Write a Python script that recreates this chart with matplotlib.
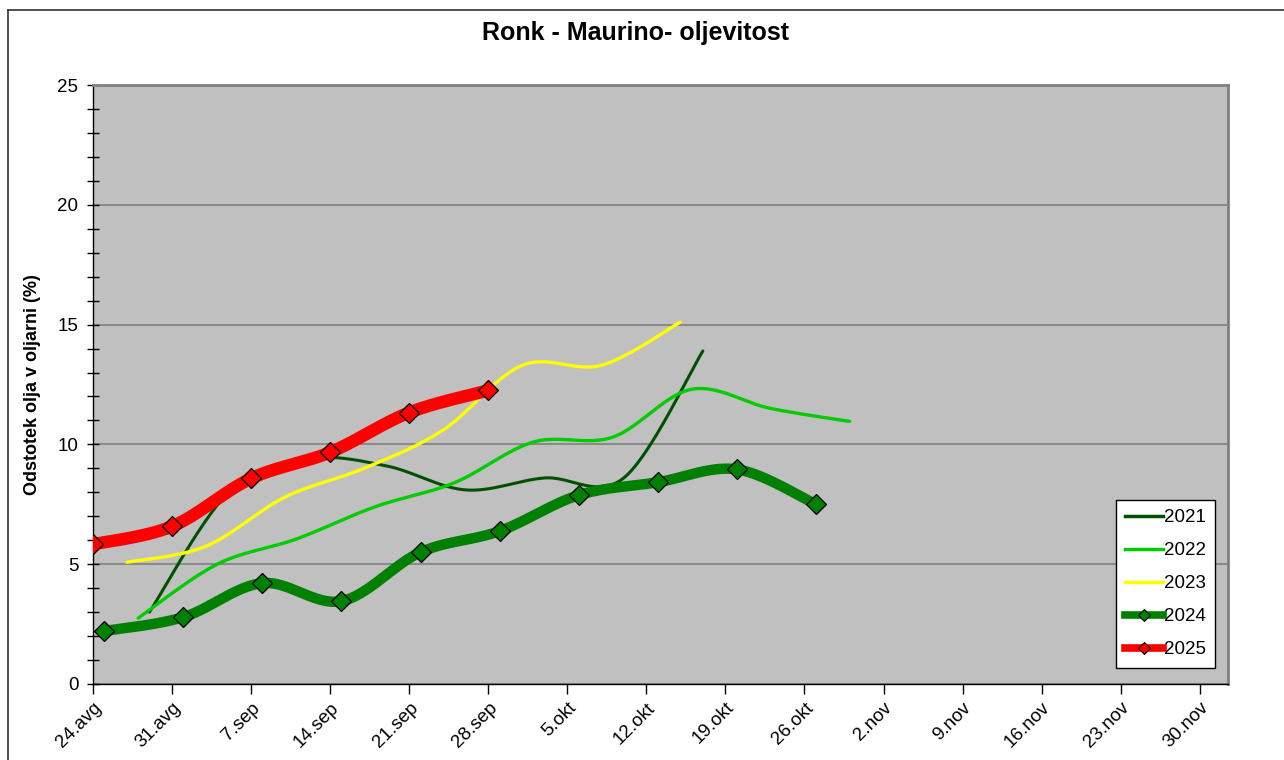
import numpy as np
import matplotlib.pyplot as plt
from matplotlib.lines import Line2D

# x values are days after 24.avg
tick_labels = ["24.avg", "31.avg", "7.sep", "14.sep", "21.sep", "28.sep", "5.okt",
               "12.okt", "19.okt", "26.okt", "2.nov", "9.nov", "16.nov", "23.nov", "30.nov"]

days_2021 = [5, 12, 19, 26, 33, 40, 47, 54]
oil_2021 = [3.0, 8.0, 9.4, 9.1, 8.1, 8.6, 8.6, 13.9]

days_2022 = [4, 11, 18, 25, 32, 39, 46, 53, 60, 67]
oil_2022 = [2.75, 5.0, 6.05, 7.4, 8.4, 10.1, 10.3, 12.3, 11.5, 10.96]

days_2023 = [3, 10, 17, 24, 31, 38, 45, 52]
oil_2023 = [5.08, 5.75, 7.8, 9.0, 10.6, 13.3, 13.3, 15.1]

days_2024 = [1, 8, 15, 22, 29, 36, 43, 50, 57, 64]
oil_2024 = [2.21, 2.79, 4.21, 3.46, 5.5, 6.38, 7.88, 8.42, 8.96, 7.5]

days_2025 = [0, 7, 14, 21, 28, 35]
oil_2025 = [5.83, 6.58, 8.58, 9.67, 11.33, 12.25]


def smooth(x, y, n=30):
    # Excel-like smoothed line: Catmull-Rom turned into cubic Bezier segments
    x = np.asarray(x, float)
    y = np.asarray(y, float)
    p = np.column_stack([x, y])
    out = [p[0]]
    t = np.linspace(0, 1, n)[1:, None]
    for i in range(len(p) - 1):
        p0 = p[i - 1] if i > 0 else p[i]
        p1, p2 = p[i], p[i + 1]
        p3 = p[i + 2] if i + 2 < len(p) else p[i + 1]
        c1 = p1 + (p2 - p0) / 6
        c2 = p2 - (p3 - p1) / 6
        seg = ((1 - t) ** 3) * p1 + 3 * ((1 - t) ** 2) * t * c1 + 3 * (1 - t) * t ** 2 * c2 + t ** 3 * p2
        out.extend(seg)
    out = np.array(out)
    return out[:, 0], out[:, 1]


plt.rcParams["font.family"] = ["Liberation Sans", "DejaVu Sans"]

fig = plt.figure(figsize=(12.84, 7.6), dpi=100)
ax = fig.add_axes([93 / 1284, 76 / 760, (1228 - 93) / 1284, (684 - 85) / 760])
ax.set_facecolor("#c0c0c0")

series = [
    (days_2021, oil_2021, "2021", "#005000", 2.2, None),
    (days_2022, oil_2022, "2022", "#00cc00", 2.4, None),
    (days_2023, oil_2023, "2023", "#ffff00", 2.4, None),
    (days_2024, oil_2024, "2024", "#008000", 7.5, "#008000"),
    (days_2025, oil_2025, "2025", "#ff0000", 9.0, "#ff0000"),
]

handles = []
for d, v, name, col, lw, mcol in series:
    sx, sy = smooth(d, v)
    ax.plot(sx, sy, color=col, lw=lw, solid_capstyle="round", zorder=3)
    if mcol:
        ax.plot(d, v, ls="none", marker="D", ms=10, mfc=mcol, mec="black", mew=0.9, zorder=4)
        handles.append(Line2D([], [], color=col, lw=5.5, marker="D", ms=6,
                              mfc=mcol, mec="black", mew=0.8, label=name))
    else:
        handles.append(Line2D([], [], color=col, lw=2.5, label=name))

ax.set_xlim(0, 100.5)
ax.set_ylim(0, 25)
ax.set_xticks(np.arange(0, 99, 7))
ax.set_xticklabels(tick_labels, rotation=45, ha="right", rotation_mode="anchor", fontsize=13.5)
ax.set_yticks([0, 5, 10, 15, 20, 25])
ax.set_yticks(np.arange(0, 26, 1), minor=True)
ax.tick_params(axis="y", which="both", direction="inout", length=9, width=1, labelsize=13.5, pad=6)
ax.tick_params(axis="x", direction="out", length=7, width=1, pad=4)
ax.grid(axis="y", which="major", color="#808080", lw=1.2)
ax.set_axisbelow(True)
for s in ["top", "right"]:
    ax.spines[s].set_color("#808080")
    ax.spines[s].set_linewidth(2)
for s in ["left", "bottom"]:
    ax.spines[s].set_color("black")
    ax.spines[s].set_linewidth(1)

ax.set_ylabel("Odstotek olja v oljarni (%)", fontsize=13, fontweight="bold", labelpad=12)
fig.text(636 / 1284, 1 - 33 / 760, "Ronk - Maurino- oljevitost", ha="center", va="center",
         fontsize=18, fontweight="bold")

leg = ax.legend(handles=handles, loc="lower right", bbox_to_anchor=(0.9885, 0.027),
                fontsize=13.5, frameon=True, fancybox=False, handlelength=2.0,
                handletextpad=0.05, labelspacing=0.85, borderpad=0.5, borderaxespad=0)
leg.get_frame().set_edgecolor("black")
leg.get_frame().set_linewidth(1)
leg.get_frame().set_facecolor("white")
leg.get_frame().set_alpha(1)

# outer chart frame (top and left sides visible)
fig.add_artist(Line2D([8 / 1284, 8 / 1284], [0, 1 - 10 / 760], color="#333333", lw=1.2,
                      transform=fig.transFigure))
fig.add_artist(Line2D([8 / 1284, 1], [1 - 10 / 760, 1 - 10 / 760], color="#333333", lw=1.2,
                      transform=fig.transFigure))

fig.savefig("out.png", dpi=100)
